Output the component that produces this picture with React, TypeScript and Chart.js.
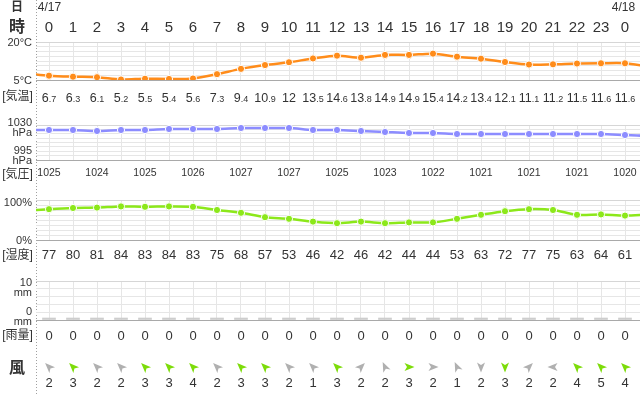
import React, { useEffect, useRef } from "react";
import { Chart, registerables } from "chart.js";
Chart.register(...registerables);

// ---------- data ----------
const hours = [0, 1, 2, 3, 4, 5, 6, 7, 8, 9, 10, 11, 12, 13, 14, 15, 16, 17, 18, 19, 20, 21, 22, 23, 24];
const hourLabels = ["0", "1", "2", "3", "4", "5", "6", "7", "8", "9", "10", "11", "12", "13", "14", "15", "16", "17", "18", "19", "20", "21", "22", "23", "0"];
const dateLabels = ["4/17", "4/18"];

const temperature = [6.7, 6.3, 6.1, 5.2, 5.5, 5.4, 5.6, 7.3, 9.4, 10.9, 12, 13.5, 14.6, 13.8, 14.9, 14.9, 15.4, 14.2, 13.4, 12.1, 11.1, 11.2, 11.5, 11.6, 11.6];
const temperatureEdges = [7.7, 10.2]; // hour before / after the window
const tempAxisLabels = ["20°C", "5°C"];

const pressure = [1025, 1025, 1024, 1025, 1025, 1026, 1026, 1026, 1027, 1027, 1027, 1025, 1025, 1024, 1023, 1022, 1022, 1021, 1021, 1021, 1021, 1021, 1021, 1021, 1020];
const pressureEdges = [1025, 1019];
const pressureAxisLabels = [["1030", "hPa"], ["995", "hPa"]];

const humidity = [77, 80, 81, 84, 83, 84, 83, 75, 68, 57, 53, 46, 42, 46, 42, 44, 44, 53, 63, 72, 77, 75, 63, 64, 61];
const humidityEdges = [73, 64];
const humidityAxisLabels = ["100%", "0%"];

const rain = [0, 0, 0, 0, 0, 0, 0, 0, 0, 0, 0, 0, 0, 0, 0, 0, 0, 0, 0, 0, 0, 0, 0, 0, 0];
const rainAxisLabels = [["10", "mm"], ["0", "mm"]];

const windSpeed = [2, 3, 2, 2, 3, 3, 4, 2, 3, 3, 2, 1, 3, 2, 2, 3, 2, 1, 2, 3, 2, 2, 4, 5, 4];
// direction the arrow points to, degrees clockwise from north
const windDir = [315, 315, 315, 315, 315, 315, 315, 315, 315, 315, 315, 315, 315, 45, 335, 90, 90, 335, 180, 180, 45, 270, 315, 315, 315];

const rowNames = ["[気温]", "[気圧]", "[湿度]", "[雨量]"];

// ---------- layout constants ----------
const W = 640;
const H = 395;
const LEFT = 36;
const X_MIN = (LEFT - 49) / 24;
const X_MAX = (W - 49) / 24;
const FONT = '"Liberation Sans", "Noto Sans CJK JP", sans-serif';
const TEXT = "#333";

const ORANGE = "#ff8c1a";
const BLUE = "#8c8cff";
const LIME = "#8ce81a";
const WIND_GREEN = "#7ddc0a";
const WIND_GRAY = "#b0b0b0";

function drawText(ctx: CanvasRenderingContext2D, s: string, x: number, y: number, size: number, align: CanvasTextAlign = "center", weight = "normal", color = TEXT) {
  ctx.font = `${weight} ${size}px ${FONT}`;
  ctx.fillStyle = color;
  ctx.textAlign = align;
  ctx.textBaseline = "middle";
  ctx.fillText(s, x, y);
}

function lineDataset(values: number[], edges: number[], color: string) {
  const pts = [{ x: -1, y: edges[0] }, ...values.map((v, i) => ({ x: hours[i], y: v })), { x: 25, y: edges[1] }];
  return {
    type: "line",
    data: pts,
    borderColor: color,
    backgroundColor: color,
    borderWidth: 2.5,
    tension: 0.3,
    fill: false,
    pointRadius: (c: any) => (c.raw && (c.raw.x < 0 || c.raw.x > 24) ? 0 : 3.6),
    pointBackgroundColor: color,
    pointBorderColor: "#ffffff",
    pointBorderWidth: 1,
  };
}

type Panel = {
  top: number;
  bottom: number;
  min: number;
  max: number;
  divisions: number;
  datasets: any[];
  draw: (chart: any) => void;
};

function makeConfig(p: Panel, id: string): any {
  const step = (p.max - p.min) / p.divisions;
  const yTicks: { value: number }[] = [];
  for (let i = 0; i <= p.divisions; i++) yTicks.push({ value: p.min + i * step });
  return {
    type: "line",
    data: { datasets: p.datasets },
    options: {
      animation: false,
      responsive: false,
      events: [],
      layout: { padding: { left: LEFT, right: 0, top: p.top, bottom: H - p.bottom } },
      plugins: { legend: { display: false }, tooltip: { enabled: false }, title: { display: false } },
      scales: {
        x: {
          type: "linear",
          min: X_MIN,
          max: X_MAX,
          offset: false,
          ticks: { display: false },
          border: { display: false },
          grid: { color: "#e6e6e6", lineWidth: 1, drawTicks: false, offset: false },
          afterBuildTicks: (a: any) => {
            a.ticks = hours.map((h) => ({ value: h }));
          },
          afterFit: (s: any) => {
            s.height = 0;
          },
        },
        y: {
          type: "linear",
          min: p.min,
          max: p.max,
          ticks: { display: false },
          border: { display: false },
          grid: {
            drawTicks: false,
            color: (c: any) => {
              const v = c.tick ? c.tick.value : 0;
              if (Math.abs(v - p.min) < 1e-6) return "#a9a9a9";
              if (Math.abs(v - p.max) < 1e-6) return "#d6d6d6";
              return "#e6e6e6";
            },
          },
          afterBuildTicks: (a: any) => {
            a.ticks = yTicks.map((t) => ({ value: t.value }));
          },
          afterFit: (s: any) => {
            s.width = 0;
          },
        },
      },
    },
    plugins: [{ id, afterDraw: (chart: any) => p.draw(chart) }],
  };
}

function drawArrow(ctx: CanvasRenderingContext2D, x: number, y: number, deg: number, color: string) {
  ctx.save();
  ctx.translate(x, y);
  ctx.rotate((deg * Math.PI) / 180);
  ctx.fillStyle = color;
  ctx.beginPath();
  ctx.moveTo(0, -5.5);
  ctx.lineTo(4, 4.5);
  ctx.lineTo(0, 2);
  ctx.lineTo(-4, 4.5);
  ctx.closePath();
  ctx.fill();
  ctx.restore();
}

const tempPanel: Panel = {
  top: 42,
  bottom: 80,
  min: 5,
  max: 20,
  divisions: 8,
  datasets: [lineDataset(temperature, temperatureEdges, ORANGE)],
  draw: (chart) => {
    const ctx: CanvasRenderingContext2D = chart.ctx;
    const xs = chart.scales.x;
    const ys = chart.scales.y;
    ctx.save();
    // dotted separator
    ctx.strokeStyle = "#a0a0a0";
    ctx.lineWidth = 1;
    ctx.setLineDash([1, 2]);
    ctx.beginPath();
    ctx.moveTo(LEFT + 0.5, 0);
    ctx.lineTo(LEFT + 0.5, H);
    ctx.stroke();
    ctx.setLineDash([]);
    // header
    drawText(ctx, "日", 17, 8, 12, "center", "bold");
    drawText(ctx, dateLabels[0], xs.getPixelForValue(hours[0]) + 0.5, 8, 12);
    drawText(ctx, dateLabels[1], xs.getPixelForValue(hours[24]) - 1.5, 8, 12);
    drawText(ctx, "時", 17, 28, 16, "center", "bold");
    hourLabels.forEach((l, i) => drawText(ctx, l, xs.getPixelForValue(hours[i]), 28, 15));
    // axis labels
    drawText(ctx, tempAxisLabels[0], 32, ys.getPixelForValue(20) + 1, 11, "right");
    drawText(ctx, tempAxisLabels[1], 32, ys.getPixelForValue(5) + 0.5, 11, "right");
    drawText(ctx, rowNames[0], 17.5, 97, 12);
    // values with small decimals
    temperature.forEach((v, i) => {
      const s = String(v);
      const dot = s.indexOf(".");
      const ip = dot >= 0 ? s.slice(0, dot) : s;
      const dp = dot >= 0 ? s.slice(dot) : "";
      ctx.font = `normal 12.5px ${FONT}`;
      const w1 = ctx.measureText(ip).width;
      ctx.font = `normal 9px ${FONT}`;
      const w2 = dp ? ctx.measureText(dp).width : 0;
      const cx = xs.getPixelForValue(hours[i]);
      const x0 = cx - (w1 + w2) / 2;
      ctx.fillStyle = TEXT;
      ctx.textAlign = "left";
      ctx.textBaseline = "alphabetic";
      ctx.font = `normal 12.5px ${FONT}`;
      ctx.fillText(ip, x0, 101.5);
      if (dp) {
        ctx.font = `normal 9px ${FONT}`;
        ctx.fillText(dp, x0 + w1, 101.5);
      }
    });
    ctx.restore();
  },
};

const pressurePanel: Panel = {
  top: 125,
  bottom: 160,
  min: 995,
  max: 1030,
  divisions: 8,
  datasets: [lineDataset(pressure, pressureEdges, BLUE)],
  draw: (chart) => {
    const ctx: CanvasRenderingContext2D = chart.ctx;
    const xs = chart.scales.x;
    const ys = chart.scales.y;
    ctx.save();
    const yTop = ys.getPixelForValue(1030);
    const yBot = ys.getPixelForValue(995);
    drawText(ctx, pressureAxisLabels[0][0], 32, yTop - 2, 11, "right");
    drawText(ctx, pressureAxisLabels[0][1], 32, yTop + 8, 11, "right");
    drawText(ctx, pressureAxisLabels[1][0], 32, yBot - 9.5, 11, "right");
    drawText(ctx, pressureAxisLabels[1][1], 32, yBot + 0.5, 11, "right");
    drawText(ctx, rowNames[1], 17.5, 175, 12);
    pressure.forEach((v, i) => {
      if (i % 2 !== 0) return;
      drawText(ctx, String(v), xs.getPixelForValue(hours[i]), 173, 10.5);
    });
    ctx.restore();
  },
};

const humidityPanel: Panel = {
  top: 200,
  bottom: 240,
  min: 0,
  max: 100,
  divisions: 8,
  datasets: [lineDataset(humidity, humidityEdges, LIME)],
  draw: (chart) => {
    const ctx: CanvasRenderingContext2D = chart.ctx;
    const xs = chart.scales.x;
    const ys = chart.scales.y;
    ctx.save();
    drawText(ctx, humidityAxisLabels[0], 32, ys.getPixelForValue(100) + 3, 11, "right");
    drawText(ctx, humidityAxisLabels[1], 32, ys.getPixelForValue(0) + 0.5, 11, "right");
    drawText(ctx, rowNames[2], 17.5, 256, 12);
    humidity.forEach((v, i) => drawText(ctx, String(v), xs.getPixelForValue(hours[i]), 255.5, 13));
    ctx.restore();
  },
};

const rainPanel: Panel = {
  top: 281,
  bottom: 320,
  min: 0,
  max: 10,
  divisions: 5,
  datasets: [
    {
      type: "bar",
      data: rain.map((v, i) => ({ x: hours[i], y: v })),
      backgroundColor: "#cdcdcd",
      barThickness: 13,
      minBarLength: 2,
      borderWidth: 0,
    },
  ],
  draw: (chart) => {
    const ctx: CanvasRenderingContext2D = chart.ctx;
    const xs = chart.scales.x;
    const ys = chart.scales.y;
    ctx.save();
    const yTop = ys.getPixelForValue(10);
    const yBot = ys.getPixelForValue(0);
    drawText(ctx, rainAxisLabels[0][0], 32, yTop + 1.5, 11, "right");
    drawText(ctx, rainAxisLabels[0][1], 32, yTop + 11.5, 11, "right");
    drawText(ctx, rainAxisLabels[1][0], 32, yBot - 8, 11, "right");
    drawText(ctx, rainAxisLabels[1][1], 32, yBot + 2, 11, "right");
    drawText(ctx, rowNames[3], 17.5, 336, 12);
    rain.forEach((v, i) => drawText(ctx, String(v), xs.getPixelForValue(hours[i]), 336, 13));
    // wind
    drawText(ctx, "風", 17, 369, 16, "center", "bold");
    windSpeed.forEach((s, i) => {
      const x = xs.getPixelForValue(hours[i]);
      drawArrow(ctx, x, 367, windDir[i], s >= 3 ? WIND_GREEN : WIND_GRAY);
      drawText(ctx, String(s), x, 383.5, 13);
    });
    ctx.restore();
  },
};

const panels = [tempPanel, pressurePanel, humidityPanel, rainPanel];

export default function App() {
  const refs = [useRef<HTMLCanvasElement>(null), useRef<HTMLCanvasElement>(null), useRef<HTMLCanvasElement>(null), useRef<HTMLCanvasElement>(null)];
  useEffect(() => {
    const charts: Chart[] = [];
    panels.forEach((p, i) => {
      const c = refs[i].current;
      if (c) charts.push(new Chart(c, makeConfig(p, "overlay" + i)));
    });
    return () => charts.forEach((c) => c.destroy());
  }, []);
  return (
    <div style={{ position: "absolute", left: 0, top: 0, width: W, height: H, background: "#fff", overflow: "hidden" }}>
      {refs.map((r, i) => (
        <canvas key={i} ref={r} width={W} height={H} style={{ position: "absolute", left: 0, top: 0, width: W, height: H }} />
      ))}
    </div>
  );
}
